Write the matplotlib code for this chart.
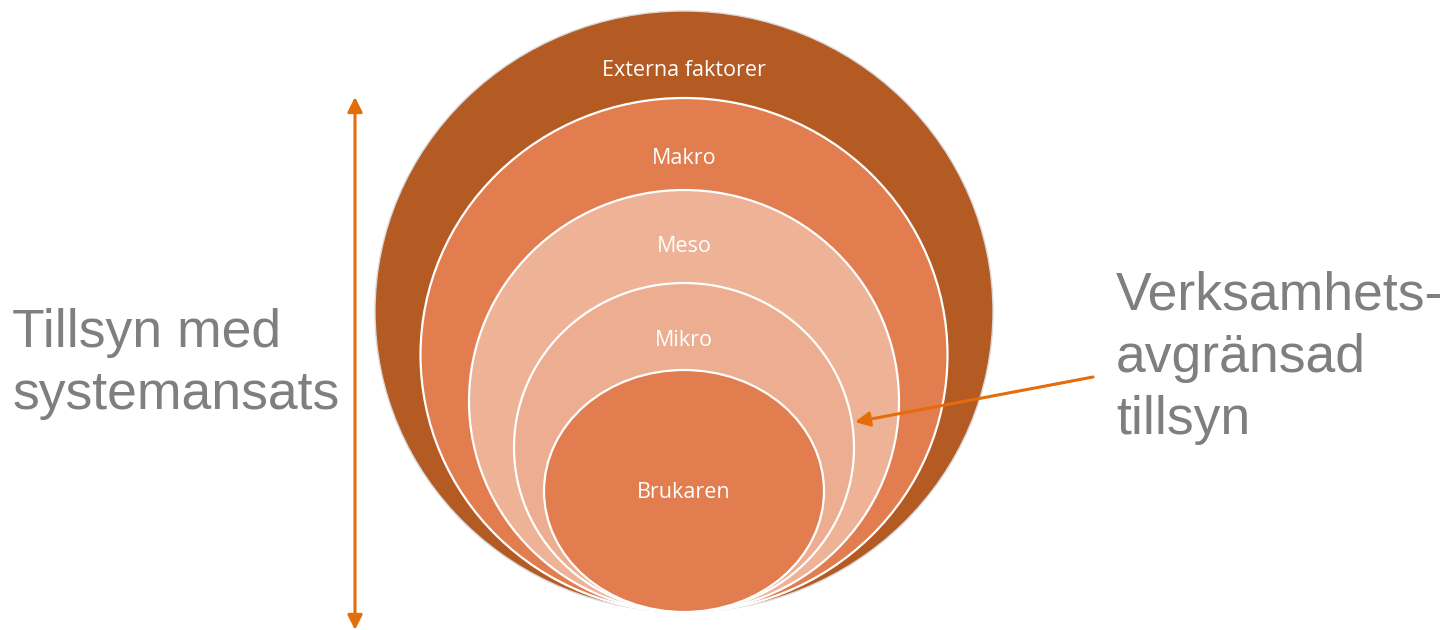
import matplotlib; matplotlib.use("Agg")
import matplotlib.pyplot as plt
from matplotlib.patches import Ellipse

# nested rings, outer -> inner (all touch the same bottom point)
labels = ["Externa faktorer", "Makro", "Meso", "Mikro", "Brukaren"]
widths = [618, 527, 430, 340, 280]
heights = [601, 514, 422, 329, 242]
label_y = [70, 158, 247, 340, 493]
colors = ["#B45A23", "#E17D4E", "#EEB296", "#EDAD91", "#E17D4E"]

left_text = "Tillsyn med\nsystemansats"
right_text = "Verksamhets-\navgränsad\ntillsyn"

W, H = 1449, 630
CX, BOTTOM = 684, 612
ORANGE = "#E46C0A"; GRAY = "#7F7F7F"

fig = plt.figure(figsize=(W / 100, H / 100), dpi=100)
ax = fig.add_axes([0, 0, 1, 1]); ax.set_xlim(0, W); ax.set_ylim(H, 0); ax.axis("off")

for i, (lab, w, h, ly, c) in enumerate(zip(labels, widths, heights, label_y, colors)):
    ec = "#D9D9D9" if i == 0 else "white"
    ax.add_patch(Ellipse((CX, BOTTOM - h / 2), w, h, fc=c, ec=ec, lw=1.6 if i else 1.0, zorder=1 + i))
    ax.text(CX, ly, lab, color="white", fontsize=15.5, family="Open Sans", ha="center", va="center", zorder=10)

ax.text(12, 364, left_text, color=GRAY, fontsize=38.5, family="Liberation Sans", ha="left", va="center",
        linespacing=1.32)
ax.text(1116, 358, right_text, color=GRAY, fontsize=38.5, family="Liberation Sans", ha="left", va="center",
        linespacing=1.32)

ap = dict(arrowstyle="<|-|>", color=ORANGE, lw=2.2, mutation_scale=22, shrinkA=0, shrinkB=0)
ax.annotate("", xy=(355, 97), xytext=(355, 630), arrowprops=ap)
ax.annotate("", xy=(855, 422), xytext=(1093, 377),
            arrowprops=dict(arrowstyle="-|>", color=ORANGE, lw=2.2, mutation_scale=22, shrinkA=0, shrinkB=0))

fig.savefig("out.png", dpi=100)
